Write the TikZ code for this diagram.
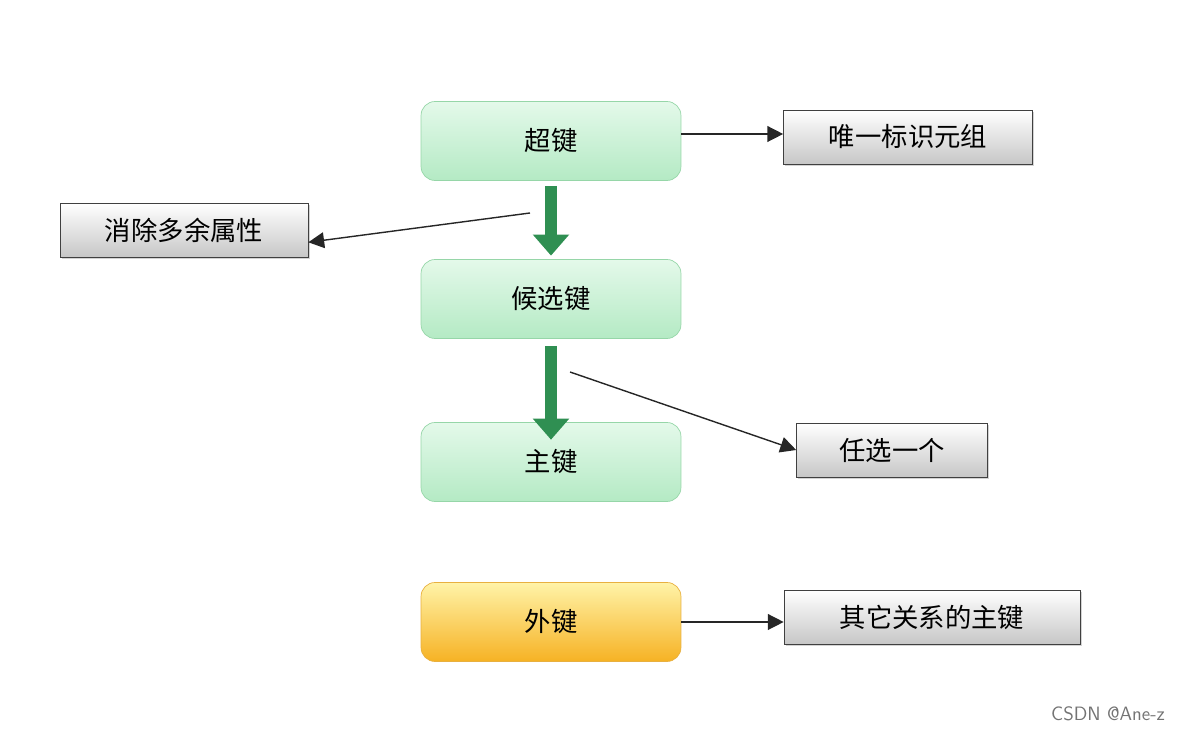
\documentclass[tikz,border=0pt]{standalone}
\usepackage{fontspec}
\setmainfont{Noto Sans CJK SC}
\usetikzlibrary{arrows.meta, shadows}
\definecolor{mintTop}{HTML}{E4F9EA}
\definecolor{mintBot}{HTML}{B4EAC4}
\definecolor{mintLine}{HTML}{96D6A8}
\definecolor{goldTop}{HTML}{FFF3A8}
\definecolor{goldBot}{HTML}{F6B224}
\definecolor{goldLine}{HTML}{E8B040}
\definecolor{bigArrow}{HTML}{2F8F52}
\tikzset{>=Stealth,
  keybox/.style={draw=mintLine, rounded corners=8pt, top color=mintTop, bottom color=mintBot,
    minimum width=5.2cm, minimum height=1.58cm, font=\fontsize{15}{18}\selectfont},
  fkbox/.style={keybox, draw=goldLine, top color=goldTop, bottom color=goldBot},
  notebox/.style={draw=black!75, top color=white, bottom color=black!22,
    drop shadow={shadow xshift=1pt, shadow yshift=-1pt, opacity=0.35},
    minimum height=1.08cm, inner xsep=6pt, font=\fontsize{15}{18}\selectfont},
  thin arrow/.style={-{Triangle[length=9pt, width=9pt]}, draw=black!85, line width=0.8pt},
  fat arrow/.style={-{Triangle[length=12pt, width=20pt]}, draw=bigArrow, line width=6.5pt}
}
\begin{document}
\begin{tikzpicture}[x=0.02cm, y=-0.02cm]
\useasboundingbox (0,0) rectangle (1178,732);

% Keys
\node[keybox] (super) at (551,141) {超键};
\node[keybox] (cand) at (551,299) {候选键};
\node[keybox] (prim) at (551,462) {主键};
\node[fkbox] (foreign) at (551,622) {外键};

% Notes
\node[notebox, minimum width=4.98cm] (uniq) at (908,137) {唯一标识元组};
\node[notebox, minimum width=4.96cm] (redund) at (184,230) {消除多余属性};
\node[notebox, minimum width=3.82cm] (pick) at (892,450) {任选一个};
\node[notebox, minimum width=5.92cm] (other) at (932,617) {其它关系的主键};

% Big arrows
\draw[fat arrow] (super.south) ++(0,5) -- ([yshift=2]cand.north);
\draw[fat arrow] (cand.south) ++(0,7) -- ([yshift=-10]prim.north);
\coordinate (fromA) at (530,213);
\coordinate (fromB) at (570,372);

% Thin arrows
\draw[thin arrow] ([yshift=0.14cm]super.east) -- ([yshift=0.14cm]super.east -| uniq.west);
\draw[thin arrow] (fromA) -- ([yshift=-7]redund.east);
\draw[thin arrow] (fromB) -- (pick.west);
\draw[thin arrow] (foreign.east) -- (foreign.east -| other.west);

\node[text=black!55, font=\fontsize{11}{13}\selectfont\sffamily] (mark) at (1108,714) {CSDN @Ane-z};
\end{tikzpicture}
\end{document}
